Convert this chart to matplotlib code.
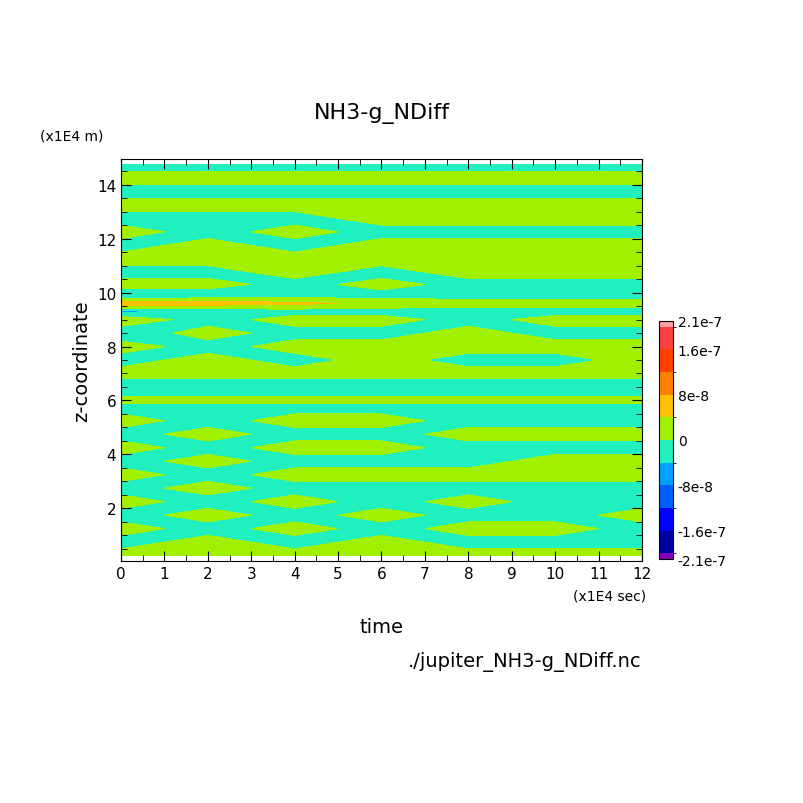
import numpy as np
import matplotlib
matplotlib.use("Agg")
import matplotlib.pyplot as plt
from matplotlib.colors import ListedColormap, BoundaryNorm
from matplotlib.ticker import AutoMinorLocator

# time samples (x1E4 sec), height samples (x1E4 m)
times = [0, 2, 4, 6, 8, 10, 12]
heights = [0.25, 0.75, 1.25, 1.75, 2.25, 2.75, 3.25, 3.75, 4.25, 4.75, 5.25, 5.75,
           6.05, 6.25, 6.6, 7.0, 7.5, 8.0, 8.5, 9.0, 9.3, 9.6, 9.9, 10.3, 10.75,
           11.25, 11.75, 12.25, 12.75, 13.25, 13.75, 14.25, 14.75]
# NDiff values in units of 1e-8 (rows = heights, cols = times)
values = [
    [ 2,  2,  2,  2,  2,  2,  2],
    [-2,  2, -2,  2, -2, -2, -2],
    [ 2, -2,  2, -2,  2,  2, -2],
    [-2,  2, -2,  2, -2, -2,  2],
    [ 2, -2,  2, -2,  2, -2, -2],
    [-2,  2, -2, -2, -2, -2, -2],
    [ 2, -2,  2,  2,  2,  2,  2],
    [-2,  2, -2, -2, -2,  2,  2],
    [ 2, -2,  2,  2, -2, -2, -2],
    [-2,  2, -2, -2,  2,  2,  2],
    [ 2, -2,  2,  2, -2, -2, -2],
    [-2, -2, -2, -2, -2, -2, -2],
    [ 2,  2,  2,  2,  2,  2,  2],
    [-2, -2, -2, -2, -2, -2, -2],
    [-2, -2, -2, -2, -2, -2, -2],
    [ 2,  2,  2,  2,  2,  2,  2],
    [-2,  2, -2,  2, -2, -2,  2],
    [ 2, -2,  2,  2,  2,  2,  2],
    [-3,  2, -2, -2,  2, -2, -2],
    [ 3, -2,  2,  2, -2,  2,  2],
    [-5, -3, -2, -2, -2, -2, -2],
    [ 7,  6,  5,  3,  2,  2,  2],
    [-4, -3, -2, -2, -2, -2, -2],
    [ 2,  2, -2,  2, -2, -2, -2],
    [-2, -2,  2, -2,  2,  2,  2],
    [ 2,  2,  2,  2,  2,  2,  2],
    [-2,  2, -2,  2,  2,  2,  2],
    [ 2, -2,  2, -2, -2, -2, -2],
    [-2, -2, -2,  2,  2,  2,  2],
    [ 2,  2,  2,  2,  2,  2,  2],
    [-2, -2, -2, -2, -2, -2, -2],
    [ 2,  2,  2,  2,  2,  2,  2],
    [-2, -2, -2, -2, -2, -2, -2],
]
levels = [-2.1e-7, -2.0e-7, -1.6e-7, -1.2e-7, -8e-8, -4e-8, 0,
          4e-8, 8e-8, 1.2e-7, 1.6e-7, 2.0e-7, 2.1e-7]
colors = ["#8000c0", "#0000a0", "#0000ff", "#0060ff", "#00a0ff", "#20f0c0",
          "#a0f000", "#ffc000", "#ff8000", "#ff4000", "#ff4040", "#ffa0a0"]
cbar_ticks = [-2.1e-7, -1.6e-7, -8e-8, 0, 8e-8, 1.6e-7, 2.1e-7]
cbar_labels = ["-2.1e-7", "-1.6e-7", "-8e-8", "0", "8e-8", "1.6e-7", "2.1e-7"]

Z = np.array(values, dtype=float) * 1e-8
cmap = ListedColormap(colors)
norm = BoundaryNorm(levels, cmap.N)

fig = plt.figure(figsize=(8.04, 8.04), dpi=100)
ax = fig.add_axes([121/804, 1-562/804, (642-121)/804, (562-160)/804])
ax.contourf(times, heights, Z, levels=levels, cmap=cmap, norm=norm)
ax.set_xlim(0, 12)
ax.set_ylim(0.05, 14.95)
ax.set_xticks(range(0, 13))
ax.set_yticks(range(2, 15, 2))
ax.xaxis.set_minor_locator(AutoMinorLocator(2))
ax.yaxis.set_minor_locator(AutoMinorLocator(4))
ax.tick_params(which="both", direction="in", top=True, right=True, labelsize=11)
ax.tick_params(which="major", length=7)
ax.tick_params(which="minor", length=4)
ax.set_xlabel("time", fontsize=14, labelpad=26)
ax.set_ylabel("z-coordinate", fontsize=14)
fig.text(382/804, 1-113/804, "NH3-g_NDiff", fontsize=16, ha="center", va="center")
fig.text(40/804, 1-137/804, "(x1E4 m)", fontsize=10, ha="left", va="center")
fig.text(610/804, 1-597/804, "(x1E4 sec)", fontsize=10, ha="center", va="center")
fig.text(642/804, 1-662/804, "./jupiter_NH3-g_NDiff.nc", fontsize=14, ha="right", va="center")

cax = fig.add_axes([659/804, 1-560/804, 14/804, 238/804])
cb = fig.colorbar(plt.cm.ScalarMappable(norm=norm, cmap=cmap), cax=cax,
                  boundaries=levels, spacing="proportional", ticks=cbar_ticks)
cb.ax.set_yticklabels(cbar_labels)
cb.ax.tick_params(labelsize=10, length=0)
fig.savefig("out.png", dpi=100)
